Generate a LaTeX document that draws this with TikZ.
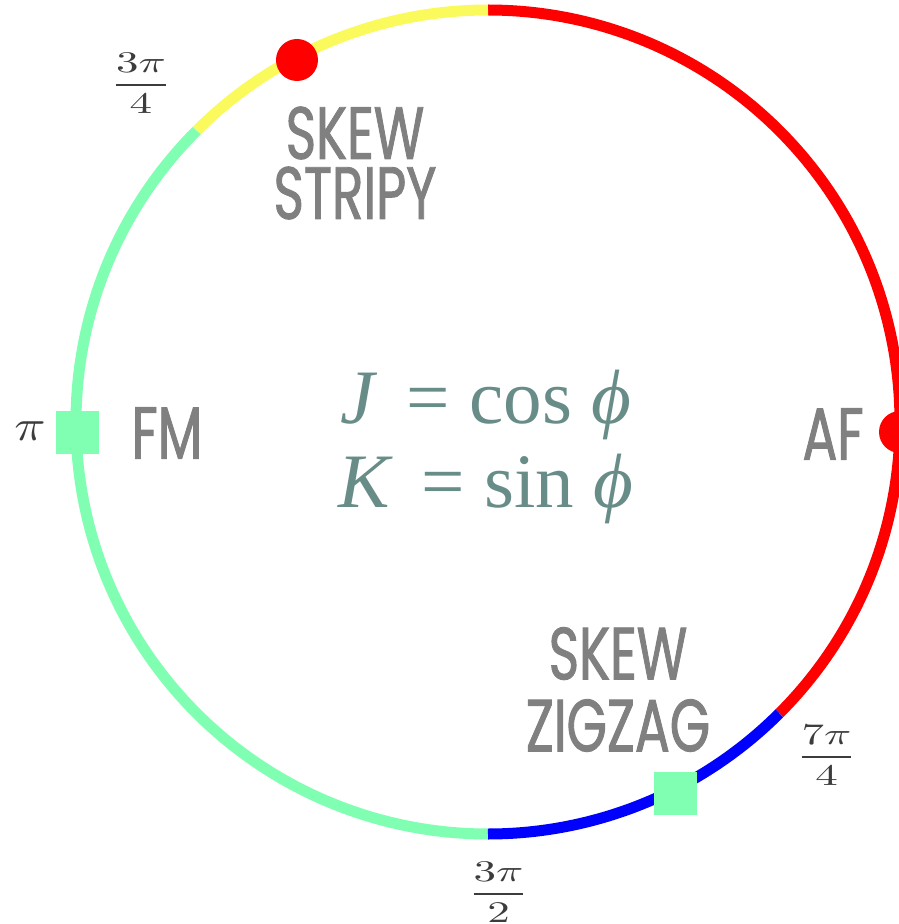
\documentclass[tikz,border=0pt]{standalone}
\usepackage{fontspec}
\usepackage{amsmath}
\usetikzlibrary{positioning}
\definecolor{afred}{HTML}{FF0000}
\definecolor{stripyyellow}{HTML}{FAFA5C}
\definecolor{fmgreen}{HTML}{80FFB2}
\definecolor{zigblue}{HTML}{0000FF}
\definecolor{phasegray}{HTML}{808080}
\definecolor{tickgray}{HTML}{3C3C3C}
\definecolor{coupling}{HTML}{688C88}
\newfontfamily\phasefont[FakeStretch=0.70, FakeBold=1.2]{Poppins}
\newfontfamily\eqfont{Liberation Serif}

\begin{document}
\begin{tikzpicture}[x=1pt, y=1pt,
    ring/.style={line width=11pt},
    phase/.style={font=\phasefont\fontsize{74}{60}\selectfont, text=phasegray, align=center, inner sep=0pt},
    tick/.style={font=\normalsize, xscale=4.5, yscale=3, text=tickgray, inner sep=0pt},
    dot/.style={circle, fill=afred, minimum size=42pt, inner sep=0pt},
    sq/.style={rectangle, fill=fmgreen, minimum size=43pt, inner sep=0pt}]
\useasboundingbox (-488,-502) rectangle (411,422);
% Phase circle
\draw[ring, afred] (-45:412) arc[start angle=-45, end angle=90, radius=412pt];
\draw[ring, stripyyellow] (90:412) arc[start angle=90, end angle=135, radius=412pt];
\draw[ring, fmgreen] (135:412) arc[start angle=135, end angle=270, radius=412pt];
\draw[ring, zigblue] (270:412) arc[start angle=270, end angle=315, radius=412pt];

% Markers
\node[dot] (stripydot) at (-191,362) {};
\node[dot] (afdot) at (412,-10) {};
\node[sq] (fmsq) at (-410.5,-10.5) {};
\node[sq] (zigsq) at (187.5,-371.5) {};

% Angles
\node[tick, xscale=1.15, yscale=1.45] (tickpi) at (-458,-9) {$\pi$};
\node[tick] (tick3q) at (-347,339) {$\dfrac{3\pi}{4}$};
\node[tick] (tick3h) at (10.5,-470) {$\dfrac{3\pi}{2}$};
\node[tick] (tick7q) at (338.5,-333) {$\dfrac{7\pi}{4}$};

% Phases
\node[phase] (stripy) at (-133,259) {SKEW\\STRIPY};
\node[phase] (fm) at (-321,-11) {FM};
\node[phase] (af) at (345,-12) {AF};
\node[phase] (zigzag) at (130,-267.5) {SKEW\\[12pt]ZIGZAG};

% Couplings
\node[font=\eqfont\fontsize{77}{84}\selectfont, text=coupling, align=center, inner sep=0pt] (model) at (-2,-25)
    {{\itshape J}\, = cos {\itshape ϕ}\\{\itshape K}\, = sin {\itshape ϕ}};
\end{tikzpicture}
\end{document}
